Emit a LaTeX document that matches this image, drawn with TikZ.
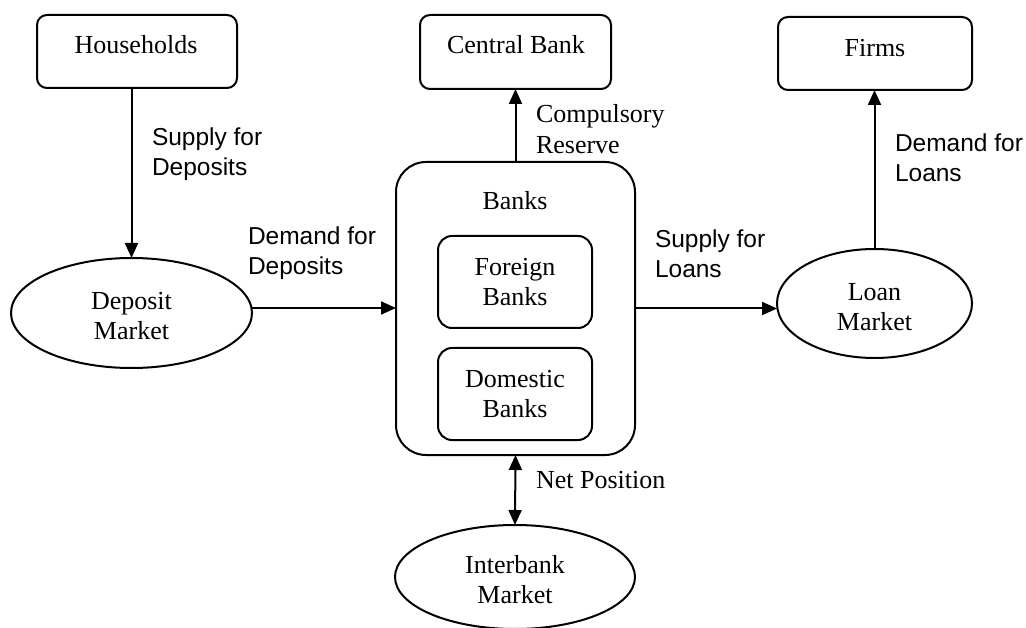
\documentclass[tikz,border=0pt]{standalone}
\usepackage{fontspec}
\setmainfont{Liberation Serif}
\newfontfamily\labsans{Liberation Sans}
\usetikzlibrary{shapes.geometric,arrows.meta}
\newcommand{\ovalstrut}{\rule{0pt}{24pt}}
\tikzset{
  every node/.style={inner sep=0pt, outer sep=0pt},
  box/.style={draw, line width=2pt, rounded corners=10pt},
  inbox/.style={draw, line width=2pt, rounded corners=14pt, align=center, font=\fontsize{26}{30}\selectfont},
  oval/.style={draw, ellipse, line width=2pt, align=center, font=\fontsize{26}{30}\selectfont},
  serif/.style={font=\fontsize{26}{30}\selectfont},
  sanslab/.style={font=\labsans\fontsize{24.5}{30}\selectfont, align=left},
  seriflab/.style={font=\fontsize{26}{31}\selectfont, align=left},
  arr/.style={line width=2pt, -{Triangle[length=15pt,width=13pt]}},
  darr/.style={line width=2pt, {Triangle[length=15pt,width=13pt]}-{Triangle[length=15pt,width=13pt]}}
}
\begin{document}
\begin{tikzpicture}[x=1pt,y=-1pt]
\useasboundingbox (0,0) rectangle (1026,628);
% boxes
\node[box, minimum width=200pt, minimum height=73pt] (hh) at (137,51.5) {};
\node[serif, anchor=base] (hht) at (136,54) {Households};
\node[box, minimum width=191pt, minimum height=74pt] (cb) at (515.5,52) {};
\node[serif, anchor=base] (cbt) at (516,54) {Central Bank};
\node[box, minimum width=194pt, minimum height=73pt] (fi) at (875,53.5) {};
\node[serif, anchor=base] (fit) at (875,57) {Firms};
\node[draw, line width=2pt, rounded corners=30pt, minimum width=239pt, minimum height=293pt] (bk) at (515.5,308.5) {};
\node[serif, anchor=base] (bkt) at (515,210) {Banks};
\node[inbox, minimum width=154pt, minimum height=92pt] (fb) at (515,282) {Foreign\\Banks};
\node[inbox, minimum width=154pt, minimum height=92pt] (db) at (515,394) {Domestic\\Banks};
% ellipses
\node[oval, minimum width=241pt, minimum height=110pt] (dm) at (131.5,313) {\ovalstrut Deposit\\Market};
\node[oval, minimum width=195pt, minimum height=109pt] (lm) at (874.5,303.5) {\ovalstrut Loan\\Market};
\node[oval, minimum width=240pt, minimum height=104pt] (im) at (515,577) {\ovalstrut Interbank\\Market};
% connectors
\draw[arr] (dm.north |- hh.south) -- (dm.north);
\draw[arr] ([yshift=5pt]dm.east) -- ([yshift=5pt]dm.east -| bk.west);
\draw[arr] (bk.north) -- (bk.north |- cb.south);
\draw[arr] (bk.east) -- (bk.east -| lm.west);
\draw[arr] (lm.north) -- (lm.north |- fi.south);
\draw[darr] (bk.south) -- (im.north);
% labels (anchor at baseline of last line)
\node[sanslab, anchor=base west] (l1) at (152,176) {Supply for\\Deposits};
\node[sanslab, anchor=base west] (l2) at (248,275) {Demand for\\Deposits};
\node[sanslab, anchor=base west] (l3) at (655,278) {Supply for\\Loans};
\node[sanslab, anchor=base west] (l4) at (895,182) {Demand for\\Loans};
\node[seriflab, anchor=base west] (l5) at (536,154) {Compulsory\\Reserve};
\node[seriflab, anchor=base west] (l6) at (536,488) {Net Position};
\end{tikzpicture}
\end{document}
